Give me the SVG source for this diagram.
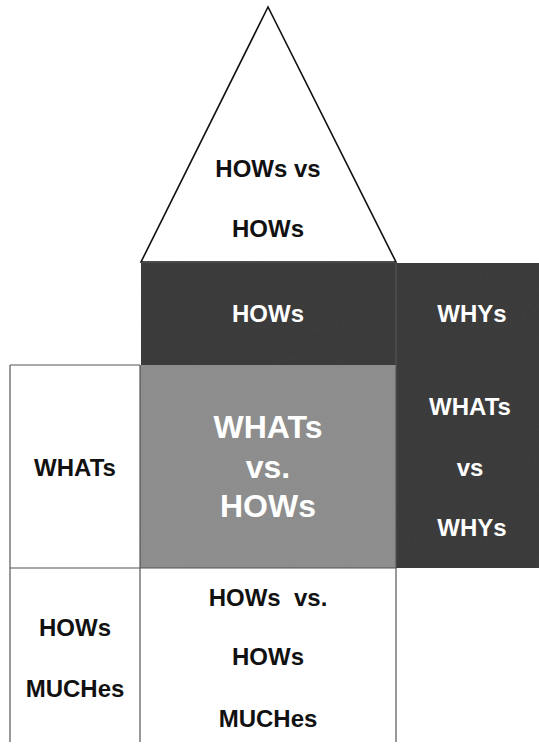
<svg xmlns="http://www.w3.org/2000/svg" width="539" height="746" viewBox="0 0 539 746">
<defs>
<filter id="grain" x="0" y="0" width="100%" height="100%">
<feTurbulence type="fractalNoise" baseFrequency="0.9" numOctaves="2" seed="3" result="n"/>
<feColorMatrix in="n" type="matrix" values="0 0 0 0 0.5  0 0 0 0 0.5  0 0 0 0 0.5  0 0 0 0.35 0" result="g"/>
<feComposite in="g" in2="SourceGraphic" operator="in" result="gm"/>
<feBlend in="SourceGraphic" in2="gm" mode="overlay"/>
</filter>
</defs>
<style>
.t{font-family:"Liberation Sans",Arial,sans-serif;font-weight:bold;font-size:24px;text-anchor:middle}
.w{fill:#ffffff}
.k{fill:#111111}
.dark{fill:#3b3b3b}
.mid{fill:#8d8d8d}
.ln{stroke:#555555;stroke-width:1.2;fill:none}
</style>
<rect width="539" height="746" fill="#ffffff"/>
<g id="roof">
<polygon points="268,7 141,262 396,262" fill="#ffffff" stroke="#111111" stroke-width="1.6"/>
<text class="t k" x="268" y="177">HOWs vs</text>
<text class="t k" x="268" y="237">HOWs</text>
</g>
<g id="hows">
<rect class="dark" x="141" y="263" width="255" height="102" filter="url(#grain)"/>
<text class="t w" x="268" y="322">HOWs</text>
</g>
<g id="whys">
<rect class="dark" x="396" y="263" width="143" height="102" filter="url(#grain)"/>
<text class="t w" x="472" y="322">WHYs</text>
</g>
<g id="whats">
<rect x="10" y="365" width="130" height="203" fill="#ffffff"/>
<text class="t k" x="75" y="476">WHATs</text>
</g>
<g id="whats-vs-hows">
<rect class="mid" x="140" y="365" width="256" height="203" filter="url(#grain)"/>
<text class="t w" x="268" y="438" style="font-size:32px">WHATs</text>
<text class="t w" x="268" y="478" style="font-size:32px">vs.</text>
<text class="t w" x="268" y="517" style="font-size:32px">HOWs</text>
</g>
<g id="whats-vs-whys">
<rect class="dark" x="396" y="365" width="143" height="203" filter="url(#grain)"/>
<text class="t w" x="470" y="415">WHATs</text>
<text class="t w" x="470" y="476">vs</text>
<text class="t w" x="472" y="536">WHYs</text>
</g>
<g id="how-muches">
<text class="t k" x="75" y="636">HOWs</text>
<text class="t k" x="75" y="697">MUCHes</text>
</g>
<g id="hows-vs-how-muches">
<text class="t k" x="268" y="606" xml:space="preserve">HOWs  vs.</text>
<text class="t k" x="268" y="665">HOWs</text>
<text class="t k" x="268" y="727">MUCHes</text>
</g>
<g id="connectors">
<path class="ln" d="M396,263 V568"/>
<path class="ln" d="M10,365 H140"/>
<path class="ln" d="M10,365 V742"/>
<path class="ln" d="M140,365 V742"/>
<path class="ln" d="M396,568 V742"/>
<path class="ln" d="M10,568 H396"/>
</g>
</svg>
